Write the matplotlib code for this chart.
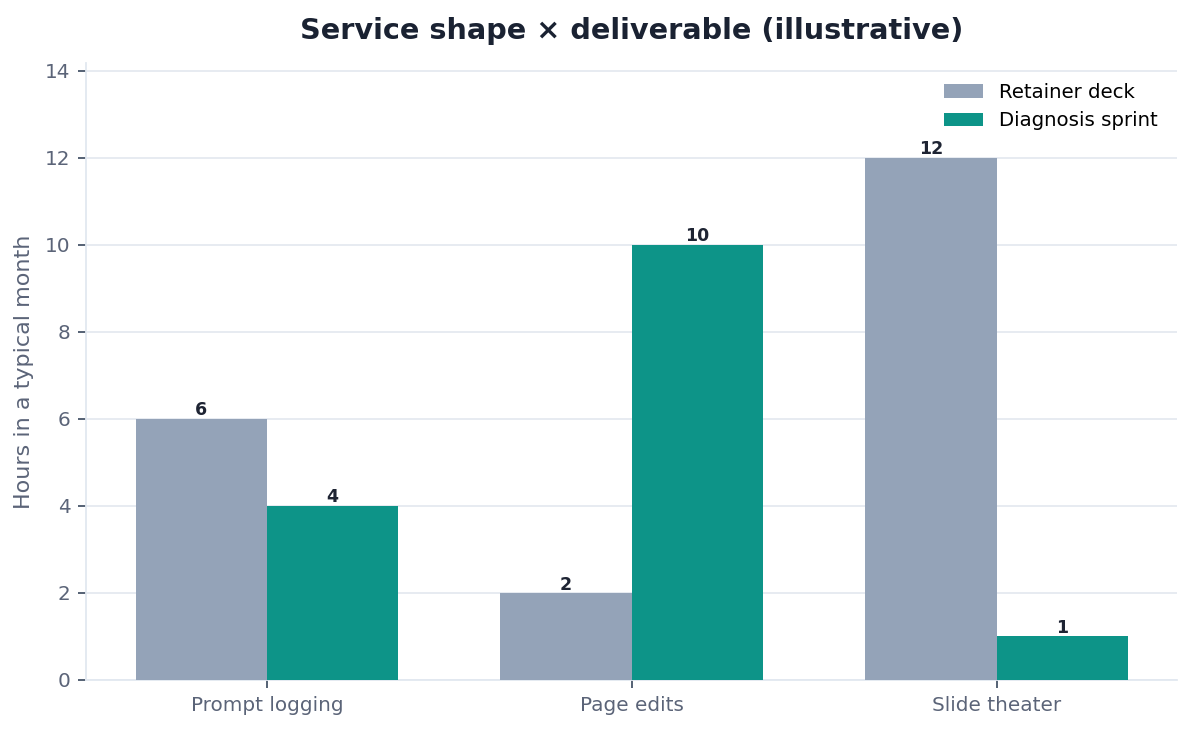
import matplotlib
matplotlib.use("Agg")
import matplotlib.pyplot as plt
import numpy as np

categories = ["Prompt logging", "Page edits", "Slide theater"]
series_names = ["Retainer deck", "Diagnosis sprint"]
retainer = [6, 2, 12]
sprint = [4, 10, 1]
colors = ["#94a3b8", "#0d9488"]

fig, ax = plt.subplots(figsize=(11.93, 7.31), dpi=100)
fig.subplots_adjust(left=0.072, right=0.987, top=0.914, bottom=0.07)

x = np.arange(len(categories))
w = 0.36
b1 = ax.bar(x - w / 2, retainer, w, color=colors[0], label=series_names[0], zorder=3)
b2 = ax.bar(x + w / 2, sprint, w, color=colors[1], label=series_names[1], zorder=3)

for bars in (b1, b2):
    for r in bars:
        ax.annotate(f"{r.get_height():g}", (r.get_x() + r.get_width() / 2, r.get_height()),
                    xytext=(0, -0.5), textcoords="offset points", ha="center", va="bottom",
                    fontsize=12.5, fontweight="bold", color="#1e2433", zorder=4)

ax.set_ylim(0, 14.18)
ax.set_yticks(np.arange(0, 15, 2))
ax.set_xticks(x)
ax.set_xticklabels(categories)
ax.grid(axis="y", color="#e5e9f0", linewidth=1.3, zorder=0)
ax.set_axisbelow(True)
for s in ["top", "right"]:
    ax.spines[s].set_visible(False)
for s in ["left", "bottom"]:
    ax.spines[s].set_color("#e2e8f0")
    ax.spines[s].set_linewidth(1.3)
ax.tick_params(axis="both", colors="#475569", labelcolor="#5b6478", labelsize=14.4,
               length=5.5, width=1.3)
ax.tick_params(axis="x", pad=6)
ax.tick_params(axis="y", pad=5.5)
ax.set_ylabel("Hours in a typical month", fontsize=16, color="#5b6478", labelpad=8)
ax.set_title("Service shape × deliverable (illustrative)", fontsize=20.7, fontweight="bold",
             color="#1a2232", pad=17)
leg = ax.legend(frameon=False, fontsize=14.2, loc="upper right", handlelength=2.0,
                handleheight=0.7, borderaxespad=0.6, labelspacing=0.5)
fig.savefig("out.png", dpi=100)
